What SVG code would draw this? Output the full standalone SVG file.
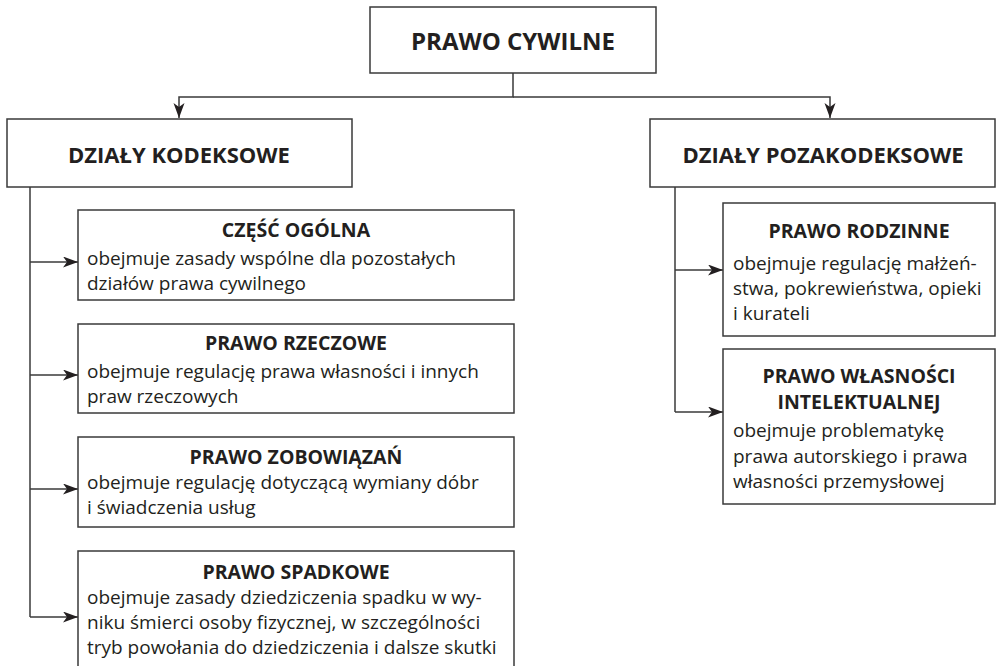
<svg xmlns="http://www.w3.org/2000/svg" width="996" height="666" viewBox="0 0 996 666">
  <style>
    .box { fill: #ffffff; stroke: #3a3a3a; stroke-width: 1.5; }
    .line { fill: none; stroke: #3a3a3a; stroke-width: 1.5; }
    .arrow { marker-end: url(#head); }
    text { font-family: "Open Sans", "Noto Sans", "Liberation Sans", sans-serif; fill: #231f20; }
    .main { font-size: 24px; font-weight: 700; text-anchor: middle; }
    .group { font-size: 22px; font-weight: 700; text-anchor: middle; }
    .title { font-size: 19.5px; font-weight: 700; text-anchor: middle; }
    .body { font-size: 19px; }
  </style>
  <defs>
    <marker id="head" markerUnits="userSpaceOnUse" markerWidth="16" markerHeight="12" refX="15" refY="5.5" orient="auto">
      <path d="M0,0 L15,5.5 L0,11 L4,5.5 Z" fill="#231f20"/>
    </marker>
  </defs>

  <!-- connectors -->
  <g id="connectors">
    <path class="line arrow" d="M513,73 V97 H179 V118"/>
    <path class="line arrow" d="M513,97 H830 V118"/>
    <path class="line" d="M30,187 V617"/>
    <path class="line arrow" d="M30,262 H78"/>
    <path class="line arrow" d="M30,375 H78"/>
    <path class="line arrow" d="M30,489 H78"/>
    <path class="line arrow" d="M30,617 H78"/>
    <path class="line" d="M675,187 V412"/>
    <path class="line arrow" d="M675,270 H723"/>
    <path class="line arrow" d="M675,412 H723"/>
  </g>

  <g id="prawo-cywilne">
    <rect class="box" x="370" y="7" width="286" height="66"/>
    <text class="main" x="513" y="50">PRAWO CYWILNE</text>
  </g>

  <g id="dzialy-kodeksowe">
    <rect class="box" x="7" y="119" width="345" height="68"/>
    <text class="group" x="179" y="163">DZIAŁY KODEKSOWE</text>
  </g>

  <g id="dzialy-pozakodeksowe">
    <rect class="box" x="650" y="119" width="345" height="68"/>
    <text class="group" x="823" y="163">DZIAŁY POZAKODEKSOWE</text>
  </g>

  <g id="czesc-ogolna">
    <rect class="box" x="78" y="210" width="436" height="90"/>
    <text class="title" x="296" y="237">CZĘŚĆ OGÓLNA</text>
    <text class="body" x="87" y="265">obejmuje zasady wspólne dla pozostałych</text>
    <text class="body" x="87" y="290">działów prawa cywilnego</text>
  </g>

  <g id="prawo-rzeczowe">
    <rect class="box" x="78" y="324" width="436" height="89"/>
    <text class="title" x="296" y="350">PRAWO RZECZOWE</text>
    <text class="body" x="87" y="378">obejmuje regulację prawa własności i innych</text>
    <text class="body" x="87" y="403">praw rzeczowych</text>
  </g>

  <g id="prawo-zobowiazan">
    <rect class="box" x="78" y="437" width="436" height="90"/>
    <text class="title" x="296" y="464">PRAWO ZOBOWIĄZAŃ</text>
    <text class="body" x="87" y="489">obejmuje regulację dotyczącą wymiany dóbr</text>
    <text class="body" x="87" y="514">i świadczenia usług</text>
  </g>

  <g id="prawo-spadkowe">
    <rect class="box" x="78" y="551" width="436" height="130"/>
    <text class="title" x="296" y="579">PRAWO SPADKOWE</text>
    <text class="body" x="87" y="604">obejmuje zasady dziedziczenia spadku w wy-</text>
    <text class="body" x="87" y="629">niku śmierci osoby fizycznej, w szczególności</text>
    <text class="body" x="87" y="654">tryb powołania do dziedziczenia i dalsze skutki</text>
  </g>

  <g id="prawo-rodzinne">
    <rect class="box" x="723" y="203" width="272" height="133"/>
    <text class="title" x="859" y="238">PRAWO RODZINNE</text>
    <text class="body" x="733" y="270">obejmuje regulację małżeń-</text>
    <text class="body" x="733" y="295">stwa, pokrewieństwa, opieki</text>
    <text class="body" x="733" y="320">i kurateli</text>
  </g>

  <g id="prawo-wlasnosci-intelektualnej">
    <rect class="box" x="723" y="349" width="272" height="155"/>
    <text class="title" x="859" y="383">PRAWO WŁASNOŚCI</text>
    <text class="title" x="859" y="409">INTELEKTUALNEJ</text>
    <text class="body" x="733" y="437">obejmuje problematykę</text>
    <text class="body" x="733" y="463">prawa autorskiego i prawa</text>
    <text class="body" x="733" y="488">własności przemysłowej</text>
  </g>
</svg>
